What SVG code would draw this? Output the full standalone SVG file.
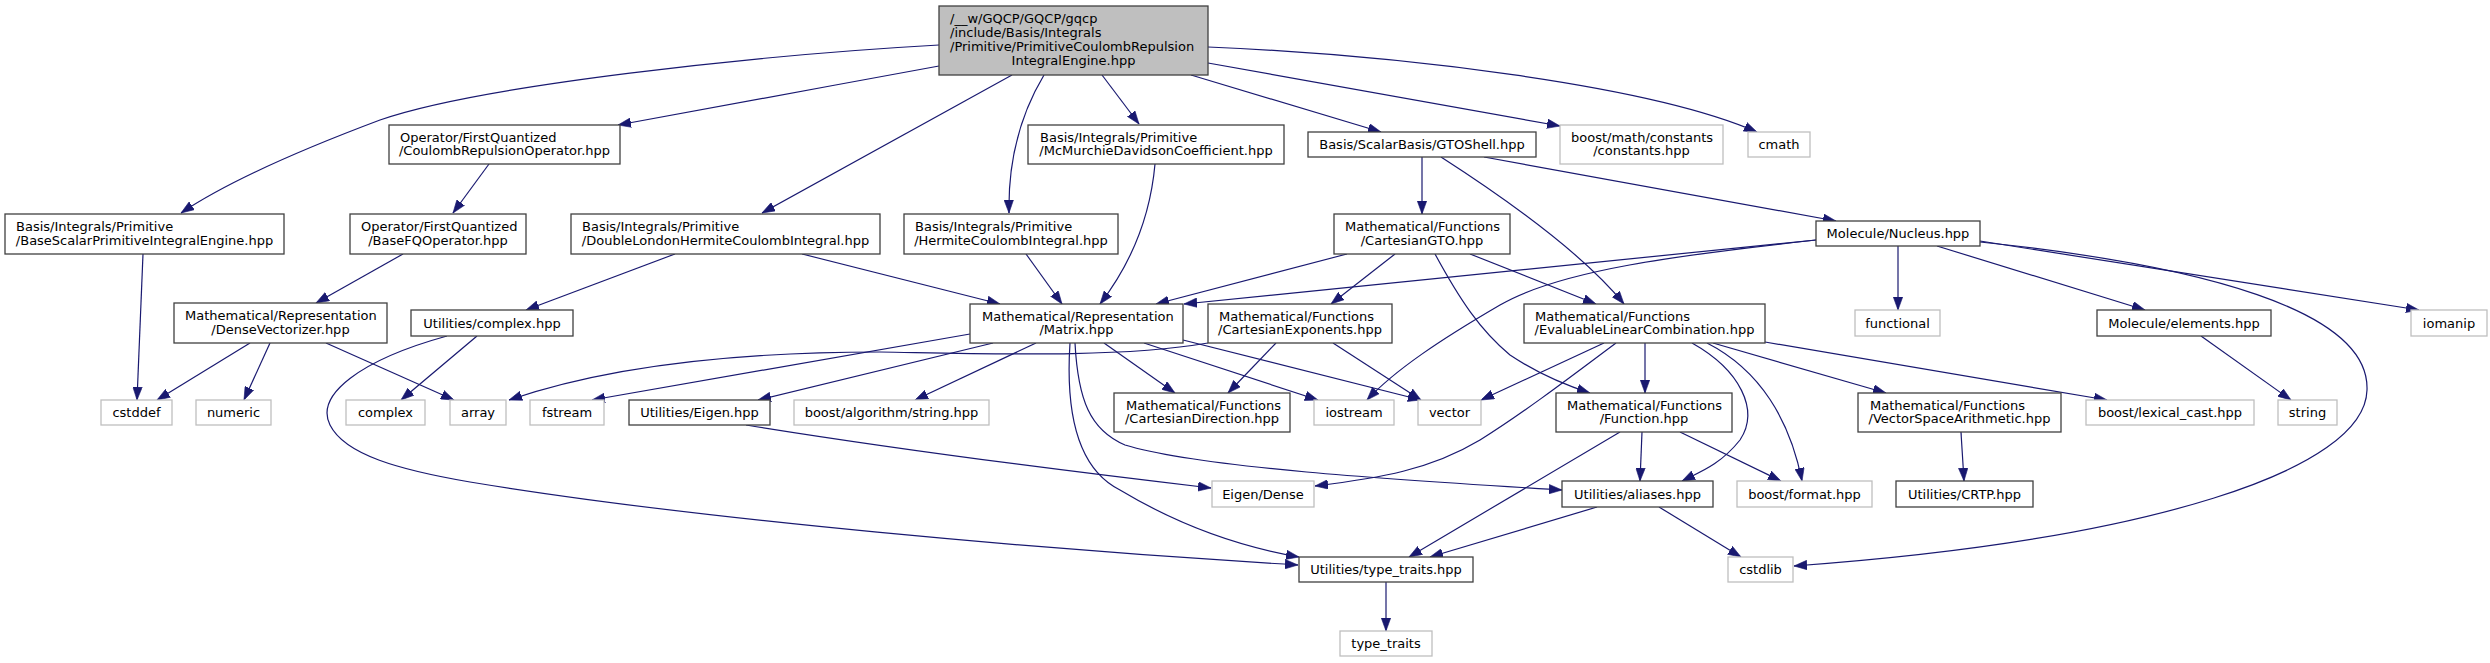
<svg xmlns="http://www.w3.org/2000/svg" width="2490" height="663" viewBox="0 0 2490 663">
<style>
rect{fill:#fff;stroke:#404040;stroke-width:1.3}
.g rect{stroke:#bfbfbf}
#root rect{fill:#bfbfbf}
text{font-family:"DejaVu Sans","Liberation Sans",sans-serif;font-size:13px;fill:#000}
.c{text-anchor:middle}
#edges path{fill:none;stroke:#191970;stroke-width:1.2;marker-end:url(#a)}
</style>
<defs>
<marker id="a" markerWidth="13" markerHeight="10" refX="13" refY="5" orient="auto" markerUnits="userSpaceOnUse"><path d="M0,0.3 L13,5 L0,9.7 z" fill="#191970" stroke="#191970" stroke-width="0.6"/></marker>
</defs>
<rect x="0" y="0" width="2490" height="663" style="fill:#fff;stroke:none"/>
<g id="edges">
<path d="M939,45 C760,55 480,85 380,120 C300,150 230,180 181,213"/>
<path d="M939,66 C830,86 700,110 618,125"/>
<path d="M1012,75 L762,213"/>
<path d="M1044,75 C1020,115 1008,160 1009,213"/>
<path d="M1102,75 L1139,124"/>
<path d="M1191,75 L1381,132"/>
<path d="M1208,63 L1560,126"/>
<path d="M1208,47 C1400,55 1650,85 1757,132"/>
<path d="M489,164 L453,213"/>
<path d="M403,254 L316,303"/>
<path d="M143,254 L137,400"/>
<path d="M250,343 L157,400"/>
<path d="M270,343 L244,400"/>
<path d="M326,343 L454,400"/>
<path d="M675,254 L526,310"/>
<path d="M802,254 L1000,304"/>
<path d="M477,336 L401,400"/>
<path d="M447,336 C360,360 315,395 330,425 C345,455 400,470 470,482 C700,520 1050,550 1298,565"/>
<path d="M1026,254 L1062,304"/>
<path d="M1155,164 C1150,220 1130,265 1100,304"/>
<path d="M970,334 L592,400"/>
<path d="M1208,343 C1120,358 1000,354 880,352 C760,352 620,362 509,400"/>
<path d="M993,343 L758,400"/>
<path d="M1036,343 L915,400"/>
<path d="M1104,343 L1175,393"/>
<path d="M1144,343 L1318,400"/>
<path d="M1183,340 L1421,400"/>
<path d="M1075,343 C1078,400 1090,430 1125,445 C1200,468 1400,480 1562,490"/>
<path d="M1070,343 C1065,420 1080,470 1120,490 C1170,520 1230,545 1299,557"/>
<path d="M1347,254 L1156,304"/>
<path d="M1816,240 L1184,304"/>
<path d="M1395,254 L1331,304"/>
<path d="M1435,254 C1460,300 1480,330 1510,355 C1540,375 1565,385 1590,393"/>
<path d="M1470,254 L1596,304"/>
<path d="M1276,343 L1228,393"/>
<path d="M1333,343 L1421,400"/>
<path d="M1422,157 L1422,214"/>
<path d="M1441,157 C1500,195 1580,250 1624,304"/>
<path d="M1484,157 L1836,221"/>
<path d="M1816,240 C1680,255 1560,270 1500,305 C1440,340 1395,370 1367,400"/>
<path d="M1898,246 L1898,310"/>
<path d="M1937,246 L2145,310"/>
<path d="M1980,241 L2419,310"/>
<path d="M1980,242 C2200,265 2370,310 2367,390 C2365,470 2150,540 1794,566"/>
<path d="M2201,336 L2291,400"/>
<path d="M1604,343 L1481,400"/>
<path d="M1616,343 C1560,385 1520,415 1480,440 C1430,470 1380,478 1315,486"/>
<path d="M1645,343 L1645,393"/>
<path d="M1692,343 C1740,370 1760,410 1740,440 C1720,465 1700,472 1682,481"/>
<path d="M1707,343 C1760,370 1790,420 1802,481"/>
<path d="M1713,343 L1886,393"/>
<path d="M1765,342 L2107,400"/>
<path d="M1620,432 L1409,557"/>
<path d="M1642,432 L1640,481"/>
<path d="M1680,432 L1781,481"/>
<path d="M1597,507 L1430,557"/>
<path d="M1659,507 L1741,557"/>
<path d="M1386,582 L1386,631"/>
<path d="M746,425 C900,450 1100,475 1211,488"/>
<path d="M1961,432 L1964,481"/>
</g>
<g id="root"><rect x="939" y="6" width="269" height="69"/><text x="950" y="22.5">/__w/GQCP/GQCP/gqcp</text><text x="950" y="36.5">/include/Basis/Integrals</text><text x="950" y="50.5">/Primitive/PrimitiveCoulombRepulsion</text><text class="c" x="1073.5" y="64.5">IntegralEngine.hpp</text></g>
<g id="n_basescalar"><rect x="5" y="214" width="279" height="40"/><text x="16" y="230.5">Basis/Integrals/Primitive</text><text class="c" x="144.5" y="244.5">/BaseScalarPrimitiveIntegralEngine.hpp</text></g>
<g id="n_cro"><rect x="389" y="125" width="231" height="39"/><text x="400" y="141.5">Operator/FirstQuantized</text><text class="c" x="504.5" y="155">/CoulombRepulsionOperator.hpp</text></g>
<g id="n_basefq"><rect x="350" y="214" width="176" height="40"/><text x="361" y="230.5">Operator/FirstQuantized</text><text class="c" x="438" y="244.5">/BaseFQOperator.hpp</text></g>
<g id="n_doublelondon"><rect x="571" y="214" width="309" height="40"/><text x="582" y="230.5">Basis/Integrals/Primitive</text><text class="c" x="725.5" y="244.5">/DoubleLondonHermiteCoulombIntegral.hpp</text></g>
<g id="n_hermite"><rect x="904" y="214" width="214" height="40"/><text x="915" y="230.5">Basis/Integrals/Primitive</text><text class="c" x="1011" y="244.5">/HermiteCoulombIntegral.hpp</text></g>
<g id="n_mcmurchie"><rect x="1028" y="125" width="256" height="39"/><text x="1040" y="141.5">Basis/Integrals/Primitive</text><text class="c" x="1156" y="155">/McMurchieDavidsonCoefficient.hpp</text></g>
<g id="n_gtoshell"><rect x="1308" y="132" width="228" height="25"/><text class="c" x="1422" y="149">Basis/ScalarBasis/GTOShell.hpp</text></g>
<g id="n_boostmath" class="g"><rect x="1560" y="125" width="163" height="39"/><text x="1571" y="141.5">boost/math/constants</text><text class="c" x="1641.5" y="155">/constants.hpp</text></g>
<g id="n_cmath" class="g"><rect x="1748" y="132" width="62" height="25"/><text class="c" x="1779" y="149">cmath</text></g>
<g id="n_densevectorizer"><rect x="174" y="303" width="213" height="40"/><text x="185" y="319.5">Mathematical/Representation</text><text class="c" x="280.5" y="333.5">/DenseVectorizer.hpp</text></g>
<g id="n_complexhpp"><rect x="411" y="310" width="162" height="26"/><text class="c" x="492" y="327.5">Utilities/complex.hpp</text></g>
<g id="n_matrix"><rect x="970" y="304" width="213" height="39"/><text x="982" y="320.5">Mathematical/Representation</text><text class="c" x="1076.5" y="334">/Matrix.hpp</text></g>
<g id="n_cartexp"><rect x="1208" y="304" width="184" height="39"/><text x="1219" y="320.5">Mathematical/Functions</text><text class="c" x="1300" y="334">/CartesianExponents.hpp</text></g>
<g id="n_cartgto"><rect x="1334" y="214" width="176" height="40"/><text x="1345" y="230.5">Mathematical/Functions</text><text class="c" x="1422" y="244.5">/CartesianGTO.hpp</text></g>
<g id="n_evaluable"><rect x="1524" y="304" width="241" height="39"/><text x="1535" y="320.5">Mathematical/Functions</text><text class="c" x="1644.5" y="334">/EvaluableLinearCombination.hpp</text></g>
<g id="n_nucleus"><rect x="1816" y="221" width="164" height="25"/><text class="c" x="1898" y="238">Molecule/Nucleus.hpp</text></g>
<g id="n_functional" class="g"><rect x="1855" y="310" width="85" height="26"/><text class="c" x="1897.5" y="327.5">functional</text></g>
<g id="n_elements"><rect x="2097" y="310" width="174" height="26"/><text class="c" x="2184" y="327.5">Molecule/elements.hpp</text></g>
<g id="n_iomanip" class="g"><rect x="2411" y="310" width="76" height="26"/><text class="c" x="2449" y="327.5">iomanip</text></g>
<g id="n_cstddef" class="g"><rect x="101" y="400" width="71" height="25"/><text class="c" x="136.5" y="417">cstddef</text></g>
<g id="n_numeric" class="g"><rect x="196" y="400" width="75" height="25"/><text class="c" x="233.5" y="417">numeric</text></g>
<g id="n_complex" class="g"><rect x="346" y="400" width="79" height="25"/><text class="c" x="385.5" y="417">complex</text></g>
<g id="n_array" class="g"><rect x="450" y="400" width="56" height="25"/><text class="c" x="478" y="417">array</text></g>
<g id="n_fstream" class="g"><rect x="530" y="400" width="74" height="25"/><text class="c" x="567" y="417">fstream</text></g>
<g id="n_eigenhpp"><rect x="629" y="400" width="141" height="25"/><text class="c" x="699.5" y="417">Utilities/Eigen.hpp</text></g>
<g id="n_boostalgo" class="g"><rect x="794" y="400" width="195" height="25"/><text class="c" x="891.5" y="417">boost/algorithm/string.hpp</text></g>
<g id="n_cartdir"><rect x="1114" y="393" width="176" height="39"/><text x="1126" y="409.5">Mathematical/Functions</text><text class="c" x="1202" y="423">/CartesianDirection.hpp</text></g>
<g id="n_iostream" class="g"><rect x="1314" y="400" width="80" height="25"/><text class="c" x="1354" y="417">iostream</text></g>
<g id="n_vector" class="g"><rect x="1418" y="400" width="63" height="25"/><text class="c" x="1449.5" y="417">vector</text></g>
<g id="n_function"><rect x="1556" y="393" width="176" height="39"/><text x="1567" y="409.5">Mathematical/Functions</text><text class="c" x="1644" y="423">/Function.hpp</text></g>
<g id="n_vsa"><rect x="1858" y="393" width="203" height="39"/><text x="1870" y="409.5">Mathematical/Functions</text><text class="c" x="1959.5" y="423">/VectorSpaceArithmetic.hpp</text></g>
<g id="n_lexical" class="g"><rect x="2086" y="400" width="168" height="25"/><text class="c" x="2170" y="417">boost/lexical_cast.hpp</text></g>
<g id="n_string" class="g"><rect x="2278" y="400" width="59" height="25"/><text class="c" x="2307.5" y="417">string</text></g>
<g id="n_eigendense" class="g"><rect x="1212" y="481" width="102" height="26"/><text class="c" x="1263" y="498.5">Eigen/Dense</text></g>
<g id="n_aliases"><rect x="1562" y="481" width="151" height="26"/><text class="c" x="1637.5" y="498.5">Utilities/aliases.hpp</text></g>
<g id="n_format" class="g"><rect x="1737" y="481" width="135" height="26"/><text class="c" x="1804.5" y="498.5">boost/format.hpp</text></g>
<g id="n_crtp"><rect x="1896" y="481" width="137" height="26"/><text class="c" x="1964.5" y="498.5">Utilities/CRTP.hpp</text></g>
<g id="n_typetraitshpp"><rect x="1299" y="557" width="174" height="25"/><text class="c" x="1386" y="574">Utilities/type_traits.hpp</text></g>
<g id="n_cstdlib" class="g"><rect x="1728" y="557" width="65" height="25"/><text class="c" x="1760.5" y="574">cstdlib</text></g>
<g id="n_typetraits" class="g"><rect x="1340" y="631" width="92" height="25"/><text class="c" x="1386" y="648">type_traits</text></g>
</svg>
